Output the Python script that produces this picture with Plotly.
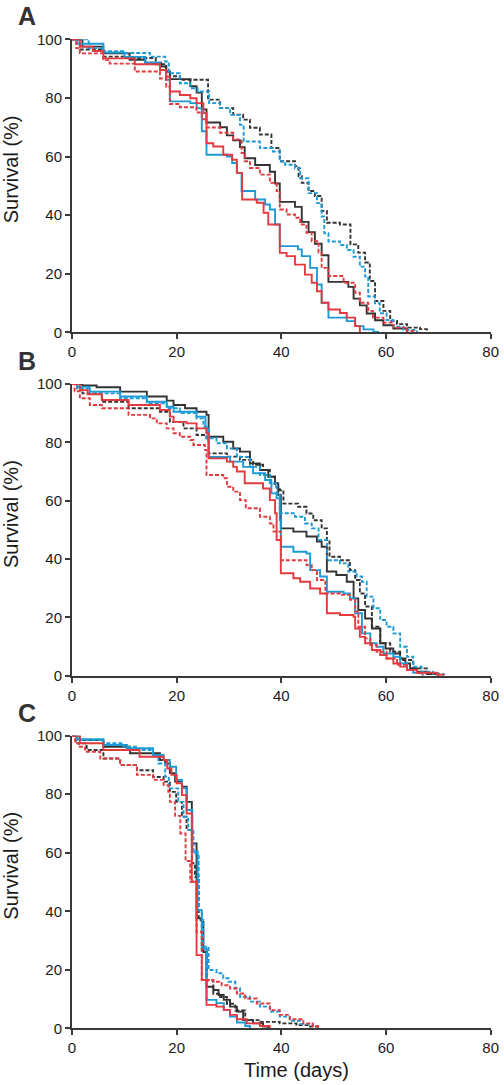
import plotly.graph_objects as go

# ---------------- data (time in days, survival in %) ----------------
x_ticks = [0, 20, 40, 60, 80]
y_ticks = [0, 20, 40, 60, 80, 100]
panel_labels = ["A", "B", "C"]

# Panel A
A_ks_t = [0,2,6,11,14,17,18,18.7,22.6,23.8,24.8,25.7,28.3,29.6,30.8,32.1,33,35,37.8,38.8,39.7,42.6,43.9,45.2,46.4,47.7,49,52.8,53.8,55,56.3,57.9,59.5,61.4,64]
A_ks_s = [100,97.5,95.2,93,92,90.7,89,86.4,84,81.8,76.1,71.6,70,67.2,65.5,63.2,59.4,57.1,54.8,50.8,44.5,42.8,37.7,34.2,30.2,26.3,17.2,15.5,11.5,9.2,6.4,4.1,2.4,1.3,0]
A_kd_t = [0,1.5,6,10.1,16,18,18.7,20.6,26,28.3,30.8,32.7,34,35.9,38.1,39.7,42.6,43.3,43.9,45.2,46.4,47.7,48.7,51.2,53.2,54.7,56,56.9,57.9,59.5,60.8,62.1,64,66.5,67.8]
A_kd_s = [100,96.5,94.1,93.6,91.5,89,87.4,86.2,79.4,76.5,74.3,72.6,69.8,67.5,62.9,58.4,56.7,53.3,51,48.2,46.5,41.4,37.4,36.8,30,27.2,23.8,17.5,10.7,7.3,3.9,2.8,1.6,1.1,0]
A_bs_t = [0,1,6,10,14,16.8,18,18.7,22.6,23.8,24.8,25.7,29.6,30.6,31.5,32.4,35,36.9,37.8,38.8,39.7,43.2,43.9,45.5,46.8,47.7,49,52.5,54.1,55.7,57.6,58.5]
A_bs_s = [100,98.5,95.5,94,92,89.5,86.2,78.8,78.2,76.5,68.6,60.6,60,57.8,54.4,48.2,45.3,43.6,41.9,36.8,29.4,28.3,26,22,16.3,10.1,5,3.8,2.1,1,0.1,0]
A_bd_t = [0,3.2,6,10.1,14.9,17.8,18.5,20.6,22.6,24,26.2,28.3,30.2,32.1,32.8,35.9,38.4,39.7,40.7,42.6,43.6,45.2,46.8,47.7,48.2,49,51.2,52.5,53.8,55,56,56.6,57.9,58.8,60.1,61.4,63.3,65.9]
A_bd_s = [100,97,95.9,95.3,94.1,92.4,88.4,85,83.3,82.2,78.2,76.5,74.2,70.8,65.1,62.9,61.7,58.3,57.2,56,52.6,47.5,44.1,39.5,33.8,31,29.8,28.1,25.8,22.4,19,12.2,9.9,6.5,4.2,1.9,0.8,0]
A_rs_t = [0,1.5,4,6,12,16.8,18,18.7,20.6,22.6,23.8,25.1,25.7,27,28.9,30.6,31.5,32.5,35.3,36.6,37.5,39.7,41,42.6,44.5,45.8,46.8,47.7,49,51.2,52.5,54.1,55]
A_rs_s = [100,97.5,96,93.5,91.5,89.5,87.2,82.2,81,79.9,78.2,74.8,64.5,63.4,60.6,58.9,54.4,45.3,44.2,40.8,36.8,27.1,26,23.1,19.7,16.9,14,10.1,7.8,6.6,5,2.1,0]
A_rd_t = [0,0.8,1.5,6,7.2,12,16.8,18,18.7,20.6,23.8,24.8,25.7,28.3,30.8,32.4,33,34,35.9,37.8,39.1,39.7,41,42.6,43.6,44.8,45.8,47.1,47.7,49,51.9,54.1,55,56.6,57.5,59.5,61.4,64,65.2]
A_rd_s = [100,97,95.2,92.9,91.7,89,86.6,83.8,77.9,76.8,75,72.7,69.9,68.1,65.8,61.2,58.4,56.1,53.8,51,48.2,41.9,40.2,39.1,36.8,34,31.1,27.2,22,19.2,16.9,13.5,10.1,7.3,5,3.3,1.6,0.5,0]

# Panel B
B_ks_t = [0,2,4.7,9.2,14.3,18.1,19.4,21.6,23.8,25.7,26.1,28.9,30.8,32.1,34,35.9,37.5,38.8,39.4,39.9,42.3,44.8,46.8,47.7,48.7,50.5,52.5,53.8,54.7,56,57.3,58.9,59.9,61.4,62.7,63.7,64.6,65.9,67.8,70]
B_ks_s = [100,99.5,98.9,97.4,95.7,94.3,92.8,91.7,90.5,89.4,81.9,80.2,77.9,76.8,72.8,70.5,68.2,66,62,50.5,49.4,47.7,46,44.2,35.7,34.5,32.2,26.5,22.5,19.6,16.2,11.1,9.3,7.6,5.9,4.2,2.5,1.4,0.6,0]
B_kd_t = [0,1,2,5.7,10.8,16.8,18.7,21.3,23.8,25.7,26.1,29.6,32.1,34.6,36.5,37.8,38.8,39.7,40.4,43.2,44.8,46.1,47.7,48.7,49.2,51.2,53.1,54.1,55,56,57.3,58.9,60.8,62.7,65.2,67.8,70]
B_kd_s = [100,98.5,96.8,93.9,91.7,90.5,87,84.8,82.5,81.4,76.2,75.1,74,72.3,70.5,68.2,64.8,63.6,59,57.9,55.6,53.3,50.5,46,40.8,39.6,36.2,32.8,28.2,23.7,16.8,11.1,8.2,5.4,2.5,0.8,0]
B_bs_t = [0,1,3.4,9.2,14.3,18.1,19.4,23.8,25.5,26.1,30.2,32.7,34.6,36.9,38.1,39.1,39.7,39.9,42.3,44.8,45.5,47.4,48.7,51.9,53.1,54.1,55.4,57,58.2,59.5,61.4,62.7,64,65.2,67]
B_bs_s = [100,99,97.4,95.7,93.9,92.2,90.5,88.8,84.8,75,73.4,71.6,69.4,67.1,62.5,60.8,53.4,44.2,42.5,41.9,36.2,34,28.8,28.2,26.5,21.4,14.5,11.1,9.9,7.6,6.5,4.2,2,1,0]
B_bd_t = [0,1,3.4,9.2,14.3,18.1,20.6,23.8,25.1,25.7,27.6,29.6,31.5,34,35.9,37.8,39.1,39.7,42.6,44.5,45.8,47.1,48.7,51.2,52.8,54.4,55.4,56.3,57.6,58.9,60.1,61.4,62.7,64,65.2,66.8,69,71]
B_bd_s = [100,98.5,96.8,95.1,93.4,91.7,90,88.2,85.4,81.4,79.7,77.9,75,71.6,68.8,66,62.5,55.7,54.5,52.2,50.5,46.5,39.6,38.5,35.7,34,32.2,27.1,23.1,19.1,16.8,14.5,9.9,6.5,3.1,1.4,0.6,0]
B_rs_t = [0,1.5,3,5.7,10.8,16.8,18.7,19.4,21.9,23.8,25.7,26.1,29.6,30.8,31.5,33,36.5,37.8,38.8,39.1,39.9,42.3,43.6,45.5,47.4,48.7,51.2,53.8,54.1,55,56,57.3,58.9,60.1,61.4,62.7,64,65.9,69.7,71]
B_rs_s = [100,97.9,96.5,94.5,92.8,91.1,88.8,87,86.5,84.8,83.1,74.5,73.4,71.6,70,66,64.2,60.2,55.7,46.5,35.1,33.4,32.2,29.9,28.2,21.4,20.8,20.2,16.2,13.3,11.1,8.8,7.1,5.9,4.2,3.1,2,1,0.3,0]
B_rd_t = [0,0.5,1.5,3.4,5.7,10.8,14.9,16.2,18.1,19.4,20.6,22.6,23.2,25.4,25.7,28.9,29.6,30.8,32.1,33.2,35.9,37.8,38.5,39.9,44.8,45.8,46.8,48.4,51.2,53.1,54.1,54.7,56,57,58.2,60.1,62.1,64,65.9,67]
B_rd_s = [100,97.5,95.1,92.8,91.7,89.4,88.2,86.5,84.8,83.1,81.9,80.8,79.1,77.4,68.8,67.7,64.8,63.1,60.2,57.4,54.5,52.2,49.4,39.6,37.9,36.2,32.8,28.2,27.7,26,22,16.8,12.8,10.5,8.2,5.9,3.7,2,0.8,0]

# Panel C
C_ks_t = [0,1.5,6,11.1,16.8,17.8,18.7,19.7,21,21.9,22.9,23.8,24.8,25.1,25.7,27,28,29,30.2,31.5,32.7,34.6,36.5,37.5]
C_ks_s = [100,98.5,96.2,94,91.7,90.5,87.2,84.3,82.6,77.4,63.2,37.6,36.4,26.1,14.2,13.1,11.4,9.7,7.4,5.7,2.8,1.7,0.6,0]
C_kd_t = [0,0.8,2.8,6,9.2,12.4,15.5,17.5,18.7,19.9,21,21.9,22.9,23.5,24.2,24.8,25.7,27,28.3,29.6,31.2,33.1,35.9,39.7,42.9,45.5,47]
C_kd_s = [100,97.4,95.1,92.2,90,88.2,85.9,84.3,80.8,77.4,72.3,67.8,56.4,51.8,37,26.7,16.4,11.8,10.7,8.4,6.1,2.8,2.2,1.7,1.1,0.6,0]
C_bs_t = [0,1,6,10.5,15.5,17.5,18.7,19.9,21,21.9,23,24,24.8,25.7,27.6,29,30.2,31.5,33.1,34]
C_bs_s = [100,98.8,96.8,95.7,93.4,91.7,89.4,84.9,82,74.6,60.4,40.4,27.3,9.7,8.6,6.3,4,2,0.8,0]
C_bd_t = [0,1,6,9.8,12.4,15.5,16.5,17.8,18.5,20.3,21.3,22.2,23.2,24.2,24.8,25.1,26.1,27.6,28.9,29.9,31.2,32.1,34,35.9,37.8,39.7,41.6,43.6,46]
C_bd_s = [100,98.5,97.4,96.2,95.1,93.4,90.5,86,82,77.4,72.3,67.8,59.8,40.4,37,27.9,19.9,18.8,17.1,15.9,13.7,10.8,9.1,7.4,5.7,4,2.6,1.5,0]
C_rs_t = [0,1.5,6,12.9,17.5,18.2,19,20,21,21.9,22.9,23.8,24.8,25.7,27.6,29,30.2,31.5,33.4,35.9,37.8]
C_rs_s = [100,97.4,95.1,92.8,91.7,88.8,86.6,83.7,79.7,73.4,50.1,25,16.5,8,7.4,6.3,4.6,3.1,1.7,0.8,0]
C_rd_t = [0,0.6,1.3,2.5,5.4,9.2,12.4,15.5,17.5,18.4,18.7,19.7,20.7,21.7,22.6,23.8,24.8,27,28.6,30.2,31.5,33.1,35.3,37.8,39.7,41.6,44.2,46,47]
C_rd_s = [100,97.5,96.2,94.5,92.2,90,86.6,84.9,83.1,80.8,77.4,72.6,66.6,57.2,50.1,33,16.5,15.9,14.7,13.6,11.9,10.2,8.5,6.2,4.6,3.1,1.7,0.8,0]

# ---------------- styling ----------------
W, H = 504, 1085
BLACK = "#333333"
BLUE = "#1c9ad6"
RED = "#e23a3f"
AXIS = "#3a3a3a"
FONT = "Liberation Sans, Arial, Helvetica, sans-serif"
DASH = "4px,2px"

# plot areas in pixels: (top, bottom)
x_px = (72, 490.7)
panels_px = [(39.3, 332.3), (384.0, 675.7), (735.7, 1028.3)]

panel_series = [
    [(A_ks_t, A_ks_s, BLACK, "solid"), (A_kd_t, A_kd_s, BLACK, DASH),
     (A_bs_t, A_bs_s, BLUE, "solid"), (A_bd_t, A_bd_s, BLUE, DASH),
     (A_rd_t, A_rd_s, RED, DASH), (A_rs_t, A_rs_s, RED, "solid")],
    [(B_ks_t, B_ks_s, BLACK, "solid"), (B_kd_t, B_kd_s, BLACK, DASH),
     (B_bs_t, B_bs_s, BLUE, "solid"), (B_bd_t, B_bd_s, BLUE, DASH),
     (B_rd_t, B_rd_s, RED, DASH), (B_rs_t, B_rs_s, RED, "solid")],
    [(C_ks_t, C_ks_s, BLACK, "solid"), (C_kd_t, C_kd_s, BLACK, DASH),
     (C_bs_t, C_bs_s, BLUE, "solid"), (C_bd_t, C_bd_s, BLUE, DASH),
     (C_rd_t, C_rd_s, RED, DASH), (C_rs_t, C_rs_s, RED, "solid")],
]

fig = go.Figure()
layout = dict(
    width=W, height=H, margin=dict(l=0, r=0, t=0, b=0, autoexpand=False),
    paper_bgcolor="white", plot_bgcolor="white", showlegend=False,
    font=dict(family=FONT, color="#1a1a1a"),
)

annotations = []
for i, series in enumerate(panel_series):
    n = "" if i == 0 else str(i + 1)
    top, bot = panels_px[i]
    for t, s, col, dash in series:
        fig.add_trace(go.Scatter(
            x=t, y=s, mode="lines", line_shape="hv",
            line=dict(color=col, width=1.9, dash=dash),
            xaxis="x" + n, yaxis="y" + n, hoverinfo="skip",
        ))
    common = dict(showline=True, linecolor=AXIS, linewidth=2, ticks="outside",
                  ticklen=5, tickwidth=2, tickcolor=AXIS, showgrid=False,
                  zeroline=False, tickfont=dict(size=15, family=FONT, color="#1a1a1a"))
    layout["xaxis" + n] = dict(domain=[x_px[0] / W, x_px[1] / W], range=[0, 80],
                              tickvals=x_ticks, anchor="y" + n, **common)
    layout["yaxis" + n] = dict(domain=[1 - bot / H, 1 - top / H], range=[0, 100],
                              tickvals=y_ticks, anchor="x" + n, **common)
    # panel letter
    annotations.append(dict(text="<b>%s</b>" % panel_labels[i], x=26.5 / W,
                            y=1 - (top - 23) / H, xref="paper", yref="paper",
                            showarrow=False, xanchor="center", yanchor="middle",
                            font=dict(size=25, family=FONT, color="#333333")))
    # y title
    annotations.append(dict(text="Survival (%)", x=11 / W,
                            y=1 - (top + 130) / H, xref="paper", yref="paper",
                            showarrow=False, textangle=-90, xanchor="center",
                            yanchor="middle",
                            font=dict(size=20, family=FONT, color="#1a1a1a")))

annotations.append(dict(text="Time (days)", x=296.7 / W, y=1 - 1070 / H,
                        xref="paper", yref="paper", showarrow=False,
                        xanchor="center", yanchor="middle",
                        font=dict(size=20, family=FONT, color="#1a1a1a")))
layout["annotations"] = annotations
fig.update_layout(**layout)
fig.write_html(
    "out.html",
    config={"responsive": False, "displayModeBar": False},
    post_script="document.body.style.margin='0';document.body.style.overflow='hidden';",
)
